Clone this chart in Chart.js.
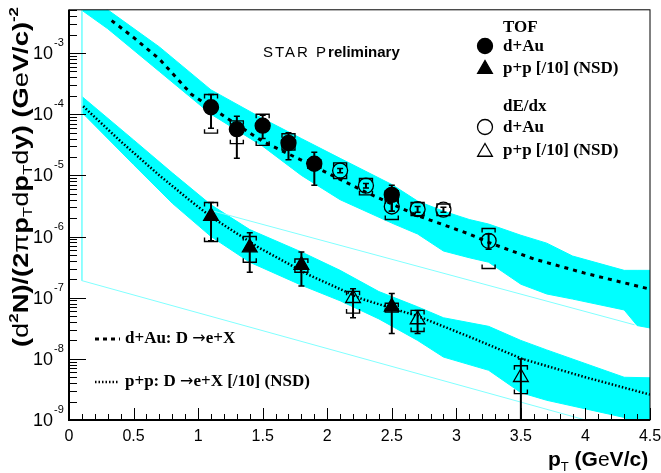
<!DOCTYPE html>
<html>
<head>
<meta charset="utf-8">
<script src="https://cdn.jsdelivr.net/npm/chart.js@4.4.0/dist/chart.umd.min.js"></script>
<style>
  html, body { margin: 0; padding: 0; background: #fff; }
  canvas { display: block; }
</style>
</head>
<body>
<canvas id="chart" width="661" height="473"></canvas>
<script>
// ---- data ----

// TOF d+Au (filled circles)
const tofAuX      = [1.1, 1.3, 1.5, 1.7, 1.9, 2.5];
const tofAuY      = [1.3e-4, 5.7e-5, 6.5e-5, 3.4e-5, 1.55e-5, 4.8e-6];
const tofAuStatLo = [5.9e-5, 1.9e-5, 4.0e-5, 1.8e-5, 6.9e-6, 2.6e-6];
const tofAuStatHi = [2.1e-4, 9.3e-5, 9.6e-5, 5.0e-5, 2.4e-5, 6.9e-6];
const tofAuSysLo  = [4.9e-5, 3.3e-5, 3.1e-5, 2.6e-5, 1.3e-5, 4.0e-6];
const tofAuSysHi  = [2.1e-4, 7.8e-5, 1.0e-4, 4.8e-5, 1.8e-5, 5.6e-6];

// dE/dx d+Au (open circles)
const dedxAuX      = [2.1, 2.3, 2.5, 2.7, 2.9, 3.25];
const dedxAuY      = [1.2e-5, 6.8e-6, 3.1e-6, 2.8e-6, 2.75e-6, 8.5e-7];
const dedxAuStatLo = [1.1e-5, 6.2e-6, 2.6e-6, 2.5e-6, 2.5e-6, 6.2e-7];
const dedxAuStatHi = [1.3e-5, 7.4e-6, 4.0e-6, 3.1e-6, 3.0e-6, 1.1e-6];
const dedxAuSysLo  = [8.9e-6, 4.8e-6, 1.9e-6, 2.2e-6, 2.2e-6, 3.0e-7];
const dedxAuSysHi  = [1.6e-5, 8.9e-6, 4.0e-6, 3.6e-6, 3.4e-6, 1.35e-6];

// TOF p+p [/10] (filled triangles)
const tofPpX      = [1.1, 1.4, 1.8, 2.5];
const tofPpY      = [2.15e-6, 6.6e-7, 3.4e-7, 7.1e-8];
const tofPpStatLo = [8.5e-7, 2.6e-7, 1.55e-7, 2.6e-8];
const tofPpStatHi = [3.6e-6, 1.15e-6, 5.6e-7, 1.17e-7];
const tofPpSysLo  = [8.3e-7, 3.8e-7, 2.6e-7, 5.8e-8];
const tofPpSysHi  = [3.6e-6, 1.0e-6, 4.3e-7, 8.1e-8];

// dE/dx p+p [/10] (open triangles)
const dedxPpX      = [2.2, 2.7, 3.5];
const dedxPpY      = [9.8e-8, 4.4e-8, 5.0e-9];
const dedxPpStatLo = [4.7e-8, 2.6e-8, 5e-10];
const dedxPpStatHi = [1.4e-7, 6.2e-8, 9.9e-9];
const dedxPpSysLo  = [5.6e-8, 2.8e-8, 2.7e-9];
const dedxPpSysHi  = [1.27e-7, 6.2e-8, 7.7e-9];

// d+Au: D -> e+X curve (dashed) and its band
const auCurveX = [0.33, 0.5, 0.7, 0.95, 1.2, 1.5, 1.9, 2.3, 2.7, 3.1, 3.25, 3.6, 4.0, 4.5];
const auCurveY = [3.4e-3, 1.8e-3, 8.0e-4, 2.1e-4, 9.3e-5, 3.6e-5, 1.4e-5, 5.3e-6, 2.2e-6, 1.1e-6, 8.0e-7, 4.3e-7, 2.5e-7, 1.38e-7];
const auBandX  = [0.1, 0.3, 0.7, 1.1, 1.5, 1.8, 2.1, 2.5, 2.7, 2.9, 3.1, 3.25, 3.5, 3.7, 3.9, 4.3, 4.4, 4.5];
const auBandHi = [1.05e-2, 5.1e-3, 1.26e-3, 2.5e-4, 8.5e-5, 4.0e-5, 1.9e-5, 7.1e-6, 3.8e-6, 2.6e-6, 1.9e-6, 1.6e-6, 1.05e-6, 7.8e-7, 4.8e-7, 2.8e-7, 2.8e-7, 2.8e-7];
const auBandLo = [5.0e-3, 2.5e-3, 5.0e-4, 1.0e-4, 3.0e-5, 1.0e-5, 4.0e-6, 1.66e-6, 1.1e-6, 5.8e-7, 4.5e-7, 3.8e-7, 1.66e-7, 1.15e-7, 9.5e-8, 6.3e-8, 3.5e-8, 3.2e-8];

// p+p: D -> e+X [/10] curve (dotted) and its band
const ppCurveX = [0.11, 0.4, 0.7, 0.93, 1.1, 1.47, 1.85, 2.27, 2.7, 3.1, 3.51, 4.0, 4.5];
const ppCurveY = [1.35e-4, 3.6e-5, 1.0e-5, 4.0e-6, 2.1e-6, 6.6e-7, 2.4e-7, 9.5e-8, 5.0e-8, 2.3e-8, 1.0e-8, 5.0e-9, 2.6e-9];
const ppBandX  = [0.1, 0.5, 0.8, 1.1, 1.4, 1.8, 2.1, 2.4, 2.7, 2.9, 3.25, 3.5, 3.7, 4.3, 4.5];
const ppBandHi = [1.95e-4, 3.8e-5, 1.1e-5, 3.3e-6, 1.3e-6, 5.6e-7, 2.8e-7, 1.26e-7, 7.1e-8, 4.7e-8, 3.4e-8, 2.0e-8, 1.4e-8, 5.0e-9, 4.9e-9];
const ppBandLo = [1.07e-4, 1.5e-5, 3.5e-6, 1.0e-6, 3.8e-7, 1.6e-7, 8.9e-8, 4.5e-8, 2.0e-8, 1.07e-8, 6.5e-9, 2.8e-9, 2.1e-9, 1.1e-9, 5e-10];

// thin light-cyan outline lines
const thinAX = [0.1, 0.1, 4.0];
const thinAY = [5.1e-3, 1.9e-7, 1.0e-9];
const thinBX = [1.12, 4.38];
const thinBY = [2.6e-6, 3.6e-8];

// axes
const xMin = 0, xMax = 4.5, yMin = 1e-9, yMax = 5.1e-3;
const xMajorTicks = [0, 0.5, 1, 1.5, 2, 2.5, 3, 3.5, 4, 4.5];
const xTickLabels = ['0', '0.5', '1', '1.5', '2', '2.5', '3', '3.5', '4', '4.5'];
const yDecadeExps = [-9, -8, -7, -6, -5, -4, -3];

const CYAN = '#00ffff';
const SANS = "'Liberation Sans', Arial, sans-serif";
const SERIF = "'Liberation Serif', 'Times New Roman', serif";

const pts = (xs, ys) => xs.map((x, i) => ({ x, y: ys[i] }));

function band(xs, hi, lo) {
    return [
        { data: pts(xs, hi), borderColor: CYAN, borderWidth: 1, pointRadius: 0, fill: '+1', backgroundColor: CYAN, order: 10 },
        { data: pts(xs, lo), borderColor: CYAN, borderWidth: 1, pointRadius: 0, fill: false, order: 10 }
    ];
}

function markers(xs, ys, stLo, stHi, syLo, syHi, style, filled, radius) {
    return {
        data: pts(xs, ys), showLine: false, pointStyle: style, pointRadius: radius,
        pointBackgroundColor: filled ? '#000' : 'rgba(0,0,0,0)', pointBorderColor: '#000',
        pointBorderWidth: 1.3, order: 1,
        statLo: stLo, statHi: stHi, sysLo: syLo, sysHi: syHi
    };
}

// ---- error bars (stat: line with caps, sys: brackets) ----
const errorBars = {
    id: 'errorBars',
    beforeDatasetDraw(chart, args) {
        const ds = chart.data.datasets[args.index];
        if (!ds.statLo) return;
        const { ctx, chartArea: a, scales: { x, y } } = chart;
        ctx.save();
        ctx.beginPath();
        ctx.rect(a.left, a.top, a.right - a.left, a.bottom - a.top);
        ctx.clip();
        ctx.strokeStyle = '#000';
        ds.data.forEach((p, i) => {
            const px = x.getPixelForValue(p.x);
            const s1 = y.getPixelForValue(ds.statHi[i]);
            const s2 = y.getPixelForValue(ds.statLo[i]);
            ctx.lineWidth = 2;
            ctx.beginPath();
            ctx.moveTo(px, s1); ctx.lineTo(px, s2);
            ctx.stroke();
            ctx.lineWidth = 1.5;
            ctx.beginPath();
            ctx.moveTo(px - 3, s1); ctx.lineTo(px + 3, s1);
            ctx.moveTo(px - 3, s2); ctx.lineTo(px + 3, s2);
            ctx.stroke();
            const b1 = y.getPixelForValue(ds.sysHi[i]);
            const b2 = y.getPixelForValue(ds.sysLo[i]);
            ctx.lineWidth = 1.4;
            ctx.beginPath();
            ctx.moveTo(px - 6.5, b1 + 4); ctx.lineTo(px - 6.5, b1); ctx.lineTo(px + 6.5, b1); ctx.lineTo(px + 6.5, b1 + 4);
            ctx.moveTo(px - 6.5, b2 - 4); ctx.lineTo(px - 6.5, b2); ctx.lineTo(px + 6.5, b2); ctx.lineTo(px + 6.5, b2 - 4);
            ctx.stroke();
        });
        ctx.restore();
    }
};

// rich text: parts of [text, kind] with kind r / b / sup / sub
function partFont(k, size) {
    if (k === 'sup') return { f: `bold ${size * 0.62}px ${SANS}`, dy: -size * 0.42 };
    if (k === 'sub') return { f: `normal ${size * 0.62}px ${SANS}`, dy: size * 0.22 };
    return { f: `${k === 'r' ? 'normal' : 'bold'} ${size}px ${SANS}`, dy: 0 };
}

function richWidth(ctx, parts, size) {
    let w = 0;
    parts.forEach(([t, k]) => { ctx.font = partFont(k, size).f; w += ctx.measureText(t).width; });
    return w;
}

function rich(ctx, x, y, parts, size) {
    let cx = x;
    parts.forEach(([t, k]) => {
        const pf = partFont(k, size);
        ctx.font = pf.f;
        ctx.fillText(t, cx, y + pf.dy);
        cx += ctx.measureText(t).width;
    });
    return cx - x;
}

// legend text with a full-height arrow
function arrowText(ctx, x, y, before, after) {
    ctx.font = `bold 17px ${SERIF}`;
    ctx.fillText(before, x, y);
    let cx = x + ctx.measureText(before).width;
    ctx.font = `16px 'DejaVu Sans', sans-serif`;
    ctx.fillText('\u2192', cx, y);
    cx += ctx.measureText('\u2192').width;
    ctx.font = `bold 17px ${SERIF}`;
    ctx.fillText(after, cx, y);
}

function drawCircle(ctx, x, y, r, filled) {
    ctx.beginPath();
    ctx.arc(x, y, r, 0, Math.PI * 2);
    if (filled) ctx.fill();
    ctx.stroke();
}

function drawTriangle(ctx, x, y, r, filled) {
    ctx.beginPath();
    ctx.moveTo(x, y - r);
    ctx.lineTo(x + r * Math.sqrt(3) / 2, y + r / 2);
    ctx.lineTo(x - r * Math.sqrt(3) / 2, y + r / 2);
    ctx.closePath();
    if (filled) ctx.fill();
    ctx.stroke();
}

const yTitleParts = [
    ['(', 'b'], ['d', 'r'], ['2', 'sup'], ['N', 'b'], [')/(2', 'b'], ['π', 'r'], ['p', 'b'], ['T', 'sub'],
    ['d', 'r'], ['p', 'b'], ['T', 'sub'], ['d', 'r'], ['y', 'b'], [') (', 'b'], ['G', 'b'], ['e', 'r'],
    ['V/c)', 'b'], ['-2', 'sup']
];

// ---- frame, ticks, labels, titles, legends ----
const decorations = {
    id: 'decorations',
    afterDraw(chart) {
        const { ctx, chartArea: a, scales: { x, y } } = chart;
        ctx.save();
        ctx.strokeStyle = '#000';
        ctx.fillStyle = '#000';

        // frame
        ctx.lineWidth = 1;
        ctx.strokeRect(a.left, a.top, a.right - a.left, a.bottom - a.top);
        ctx.lineWidth = 2;
        ctx.beginPath();
        ctx.moveTo(a.left, a.top); ctx.lineTo(a.left, a.bottom); ctx.lineTo(a.right, a.bottom);
        ctx.stroke();

        // x ticks
        ctx.lineWidth = 1;
        ctx.beginPath();
        for (let i = 0; i <= 45; i++) {
            const px = Math.round(x.getPixelForValue(i / 10)) + 0.5;
            const len = i % 5 === 0 ? 12 : 6;
            ctx.moveTo(px, a.bottom); ctx.lineTo(px, a.bottom - len);
        }
        // y ticks
        yDecadeExps.forEach(e => {
            for (let k = 1; k <= 9; k++) {
                const v = k * Math.pow(10, e);
                if (v > yMax) break;
                const py = Math.round(y.getPixelForValue(v)) + 0.5;
                const len = k === 1 ? 17 : 8;
                ctx.moveTo(a.left, py); ctx.lineTo(a.left + len, py);
            }
        });
        ctx.stroke();

        // x tick labels
        ctx.font = `16px ${SANS}`;
        ctx.textAlign = 'center';
        ctx.textBaseline = 'middle';
        xMajorTicks.forEach((v, i) => ctx.fillText(xTickLabels[i], x.getPixelForValue(v), 437));

        // y tick labels 10^n
        yDecadeExps.forEach(e => {
            const py = y.getPixelForValue(Math.pow(10, e));
            ctx.font = `18px ${SANS}`;
            ctx.textAlign = 'right';
            ctx.fillText('10', 53, py + 1);
            ctx.font = `11px ${SANS}`;
            ctx.textAlign = 'left';
            ctx.fillText(String(e), 54, py - 10);
        });

        // x title
        ctx.textAlign = 'left';
        ctx.textBaseline = 'alphabetic';
        rich(ctx, 548, 466, [['p', 'b'], ['T', 'sub'], [' (', 'b'], ['G', 'b'], ['e', 'r'], ['V/c)', 'b']], 21);

        // y title (rotated, stretched along its length to span the axis)
        ctx.save();
        ctx.translate(27.5, 347);
        ctx.rotate(-Math.PI / 2);
        const tw = richWidth(ctx, yTitleParts, 22);
        ctx.scale(340 / tw, 1);
        rich(ctx, 0, 0, yTitleParts, 22);
        ctx.restore();

        // STAR Preliminary
        ctx.textBaseline = 'middle';
        ctx.font = `15px ${SANS}`;
        ctx.letterSpacing = '2px';
        ctx.fillText('STAR P', 263, 53);
        const w1 = ctx.measureText('STAR P').width;
        ctx.letterSpacing = '0px';
        ctx.font = `bold 15px ${SANS}`;
        ctx.fillText('reliminary', 263 + w1, 53);

        // legend (top right)
        ctx.font = `bold 17px ${SERIF}`;
        ctx.fillText('TOF', 503, 28);
        ctx.fillText('d+Au', 503, 47);
        ctx.fillText('p+p [/10] (NSD)', 503, 69);
        ctx.fillText('dE/dx', 503, 107);
        ctx.fillText('d+Au', 503, 128);
        ctx.fillText('p+p [/10] (NSD)', 503, 151);
        ctx.lineWidth = 1.3;
        drawCircle(ctx, 485, 46, 7.5, true);
        drawTriangle(ctx, 485, 69, 8.5, true);
        drawCircle(ctx, 485, 127, 7.5, false);
        drawTriangle(ctx, 485, 152, 8.5, false);

        // legend (bottom left)
        arrowText(ctx, 125, 339, 'd+Au: D ', 'e+X');
        arrowText(ctx, 125, 382, 'p+p: D ', 'e+X [/10] (NSD)');
        ctx.lineWidth = 3;
        ctx.setLineDash([4, 4]);
        ctx.beginPath(); ctx.moveTo(95, 339); ctx.lineTo(120, 339); ctx.stroke();
        ctx.lineWidth = 2.5;
        ctx.setLineDash([1.5, 2]);
        ctx.beginPath(); ctx.moveTo(95, 382); ctx.lineTo(119, 382); ctx.stroke();
        ctx.restore();
    }
};

const datasets = [
    ...band(auBandX, auBandHi, auBandLo),
    ...band(ppBandX, ppBandHi, ppBandLo),
    { data: pts(thinAX, thinAY), borderColor: '#80ffff', borderWidth: 1, pointRadius: 0, fill: false, order: 9 },
    { data: pts(thinBX, thinBY), borderColor: '#80ffff', borderWidth: 1, pointRadius: 0, fill: false, order: 9 },
    { data: pts(auCurveX, auCurveY), borderColor: '#000', borderWidth: 3, borderDash: [4, 5], pointRadius: 0, fill: false, order: 5 },
    { data: pts(ppCurveX, ppCurveY), borderColor: '#000', borderWidth: 2.5, borderDash: [1.5, 2], pointRadius: 0, fill: false, order: 5 },
    markers(tofAuX, tofAuY, tofAuStatLo, tofAuStatHi, tofAuSysLo, tofAuSysHi, 'circle', true, 7.5),
    markers(dedxAuX, dedxAuY, dedxAuStatLo, dedxAuStatHi, dedxAuSysLo, dedxAuSysHi, 'circle', false, 7.5),
    markers(tofPpX, tofPpY, tofPpStatLo, tofPpStatHi, tofPpSysLo, tofPpSysHi, 'triangle', true, 8.5),
    markers(dedxPpX, dedxPpY, dedxPpStatLo, dedxPpStatHi, dedxPpSysLo, dedxPpSysHi, 'triangle', false, 8.5)
];

new Chart(document.getElementById('chart'), {
    type: 'line',
    data: { datasets },
    options: {
        responsive: false,
        animation: false,
        devicePixelRatio: 1,
        layout: { padding: { top: 4, right: 11, left: 0, bottom: 0 } },
        elements: { line: { tension: 0 } },
        plugins: { legend: { display: false }, tooltip: { enabled: false } },
        scales: {
            x: {
                type: 'linear', min: xMin, max: xMax,
                grid: { display: false }, border: { display: false }, ticks: { display: false },
                afterFit(s) { s.height = 53; }
            },
            y: {
                type: 'logarithmic', min: yMin, max: yMax,
                grid: { display: false }, border: { display: false }, ticks: { display: false },
                afterFit(s) { s.width = 69; }
            }
        }
    },
    plugins: [errorBars, decorations]
});
</script>
</body>
</html>
